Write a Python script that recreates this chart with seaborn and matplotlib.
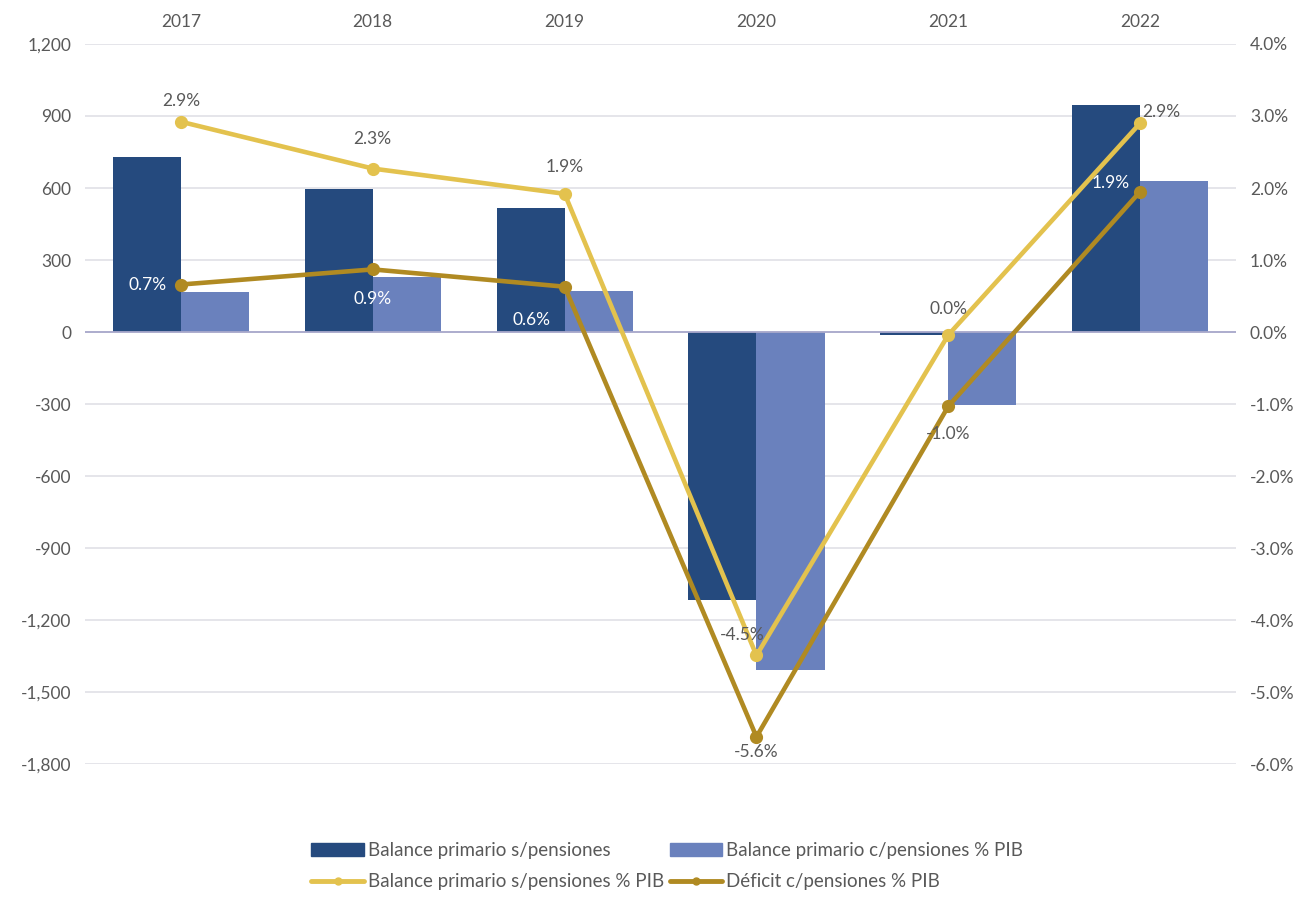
import pandas as pd
import matplotlib.pyplot as plt
import seaborn as sns
from matplotlib.patches import Patch
from matplotlib.lines import Line2D
from matplotlib.ticker import FuncFormatter

# values
years = ['2017', '2018', '2019', '2020', '2021', '2022']
bal_s_pens = [730, 596, 517, -1117, -12, 946]
bal_c_pens = [167, 229, 171, -1408, -304, 629]
bal_s_pens_pib = [2.92, 2.27, 1.92, -4.49, -0.04, 2.90]
def_c_pens_pib = [0.66, 0.87, 0.63, -5.62, -1.03, 1.95]

lbl_bar1 = 'Balance primario s/pensiones'
lbl_bar2 = 'Balance primario c/pensiones % PIB'
lbl_line1 = 'Balance primario s/pensiones % PIB'
lbl_line2 = 'Déficit c/pensiones % PIB'

c_dark = '#254A7E'
c_light = '#6A81BD'
c_yellow = '#E3C24E'
c_brown = '#B08A22'
c_text = '#595959'

sns.set_style('white')
plt.rcParams['font.family'] = ['Lato', 'DejaVu Sans']


def pct(v):
    s = f'{v:.1f}'
    if s == '-0.0':
        s = '0.0'
    return s + '%'


bars = pd.DataFrame({
    'year': years * 2,
    'valor': bal_s_pens + bal_c_pens,
    'serie': [lbl_bar1] * len(years) + [lbl_bar2] * len(years),
})

fig, ax = plt.subplots(figsize=(13.08, 8.97), dpi=100)
fig.subplots_adjust(left=0.065, right=0.945, top=0.951, bottom=0.148)

sns.barplot(data=bars, x='year', y='valor', hue='serie', order=years,
            palette=[c_dark, c_light], width=0.71, gap=0, saturation=1,
            linewidth=0, legend=False, ax=ax)
ax.set_xlim(-0.5, len(years) - 0.5)
ax.set_ylim(-1800, 1200)
ax.set_yticks(range(-1800, 1201, 300))
ax.yaxis.set_major_formatter(FuncFormatter(lambda v, p: f'{v:,.0f}'))
ax.yaxis.grid(True, color='#E3E3E8', linewidth=1.3)
ax.set_axisbelow(True)
ax.axhline(0, color='#A9A9CC', linewidth=1.3, zorder=1)
ax.xaxis.tick_top()
ax.set_xlabel('')
ax.set_ylabel('')
ax.tick_params(length=0, labelsize=12.5, labelcolor=c_text, pad=10)
for s in ax.spines.values():
    s.set_visible(False)

ax2 = ax.twinx()
lines = pd.DataFrame({'year': years, 's': bal_s_pens_pib, 'c': def_c_pens_pib})
sns.pointplot(data=lines, x='year', y='s', order=years, color=c_yellow,
              markersize=7, linewidth=3.3, ax=ax2)
sns.pointplot(data=lines, x='year', y='c', order=years, color=c_brown,
              markersize=7, linewidth=3.3, ax=ax2)
ax2.set_xlim(-0.5, len(years) - 0.5)
ax2.set_ylim(-6, 4)
ax2.set_yticks(range(-6, 5))
ax2.yaxis.set_major_formatter(FuncFormatter(lambda v, p: f'{v:.1f}%'))
ax2.set_ylabel('')
ax2.tick_params(length=0, labelsize=12.5, labelcolor=c_text, pad=10)
for s in ax2.spines.values():
    s.set_visible(False)

# data labels
off_s = [(0, 15), (0, 21), (0, 19), (-10, 15), (0, 19), (15, 8)]
for i, v in enumerate(bal_s_pens_pib):
    ax2.annotate(pct(v), (i, v), xytext=off_s[i], textcoords='offset points',
                 ha='center', va='center', fontsize=12.5, color=c_text)
off_c = [(-24, 0), (0, -21), (-24, -24), (0, -11), (0, -20), (-21, 6)]
col_c = ['white', 'white', 'white', c_text, c_text, 'white']
for i, v in enumerate(def_c_pens_pib):
    ax2.annotate(pct(v), (i, v), xytext=off_c[i], textcoords='offset points',
                 ha='center', va='center', fontsize=12.5, color=col_c[i])

handles = [Patch(color=c_dark),
           Line2D([], [], color=c_yellow, lw=3.5, marker='o', ms=5),
           Patch(color=c_light),
           Line2D([], [], color=c_brown, lw=3.5, marker='o', ms=5)]
fig.legend(handles, [lbl_bar1, lbl_line1, lbl_bar2, lbl_line2], ncol=2,
           loc='upper center', bbox_to_anchor=(0.51, 0.08), frameon=False,
           fontsize=13.5, labelcolor=c_text, handlelength=2.8, handletextpad=0.2,
           columnspacing=0.3, labelspacing=0.75)

plt.savefig('out.png', dpi=100)
